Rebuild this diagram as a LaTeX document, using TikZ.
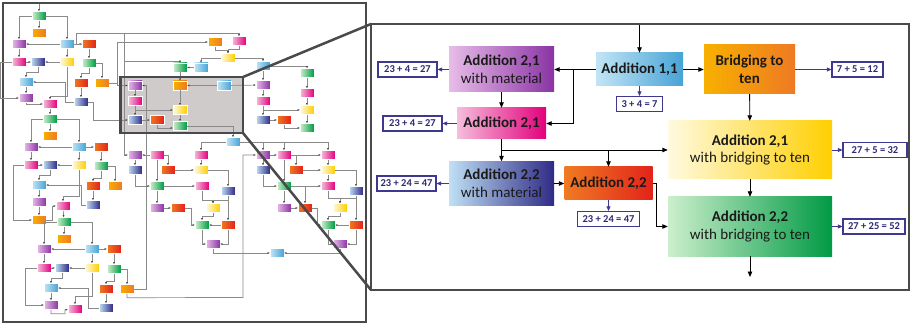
\documentclass[tikz,border=0pt]{standalone}
\usepackage{fontspec}
\setmainfont{Carlito}
\usepackage{tikz}
\usetikzlibrary{arrows.meta}

\definecolor{frameC}{HTML}{4A4A4A}
\definecolor{rectC}{HTML}{CFCBCA}
\definecolor{linkC}{HTML}{8A8A8A}
\definecolor{txtC}{HTML}{1A1A1A}
\definecolor{resC}{HTML}{3E3890}
\definecolor{resT}{HTML}{2E2A78}
\definecolor{puL}{HTML}{E8BCE8}\definecolor{puR}{HTML}{8A34A4}
\definecolor{pkL}{HTML}{F5BEDC}\definecolor{pkR}{HTML}{E3007C}
\definecolor{lbL}{HTML}{C2E5F5}\definecolor{lbR}{HTML}{47A3D6}
\definecolor{orL}{HTML}{F8B000}\definecolor{orR}{HTML}{EE7A23}
\definecolor{yeL}{HTML}{FFFAE0}\definecolor{yeR}{HTML}{FFCF00}
\definecolor{blL}{HTML}{BFE0F5}\definecolor{blR}{HTML}{2F2B86}
\definecolor{reL}{HTML}{F07B22}\definecolor{reR}{HTML}{E2231A}
\definecolor{grL}{HTML}{CCEFCC}\definecolor{grR}{HTML}{009A44}

\begin{document}
\begin{tikzpicture}[x=1pt,y=-1pt]
  \tikzstyle{mini}=[minimum width=14pt,minimum height=9pt,inner sep=0pt,draw=white,line width=0.4pt]
  \tikzstyle{pubox}=[left color=puL,right color=puR]
  \tikzstyle{pkbox}=[left color=pkL,right color=pkR]
  \tikzstyle{lbbox}=[left color=lbL,right color=lbR]
  \tikzstyle{orbox}=[left color=orL,right color=orR]
  \tikzstyle{yebox}=[left color=yeL,right color=yeR]
  \tikzstyle{blbox}=[left color=blL,right color=blR]
  \tikzstyle{rebox}=[left color=reL,right color=reR]
  \tikzstyle{grbox}=[left color=grL,right color=grR]
  \tikzstyle{link}=[-{Latex[length=2.2pt,width=2pt,color=black!75]},linkC,line width=0.7pt]
  \tikzstyle{big}=[inner sep=2pt,align=center,text=txtC,font=\fontsize{15}{17.5}\selectfont]
  \tikzstyle{res}=[draw=resC,line width=1.2pt,fill=white,inner sep=1pt,minimum height=15pt,text=resT,font=\bfseries\fontsize{10.5}{12}\selectfont]
  \tikzstyle{conn}=[-{Triangle[length=5.5pt,width=4.5pt]},black,line width=0.9pt]
  \tikzstyle{resconn}=[-{Triangle[length=4.5pt,width=4pt]},resC,line width=0.9pt]
  \useasboundingbox (0,0) rectangle (911,326);

  % overview
  \draw[frameC,line width=1.5pt,fill=white] (3,3) rectangle (366,322);
  \fill[rectC] (120.5,77) rectangle (243,133);

  \node[mini,grbox] (s_1) at (39,16) {};
  \node[mini,orbox] (s_2) at (39,33) {};
  \node[mini,pubox] (s_3) at (19,44) {};
  \node[mini,lbbox] (s_4) at (67,44) {};
  \node[mini,rebox] (s_5) at (89,44) {};
  \node[mini,pkbox] (s_6) at (19,62) {};
  \node[mini,blbox] (s_7) at (38,62) {};
  \node[mini,yebox] (s_8) at (67,62) {};
  \node[mini,grbox] (s_9) at (89,63) {};
  \node[mini,lbbox] (s_10) at (26,82) {};
  \node[mini,rebox] (s_11) at (81,83) {};
  \node[mini,orbox] (s_12) at (102,83) {};
  \node[mini,pubox] (s_13) at (26,98) {};
  \node[mini,blbox] (s_14) at (81,102) {};
  \node[mini,pkbox] (s_15) at (50,104) {};
  \node[mini,grbox] (s_16) at (50,119) {};
  \node[mini,orbox] (s_17) at (50,136) {};
  \node[mini,pubox] (s_18) at (31,147) {};
  \node[mini,lbbox] (s_19) at (79,147) {};
  \node[mini,rebox] (s_20) at (101,147) {};
  \node[mini,pkbox] (s_21) at (31,165) {};
  \node[mini,blbox] (s_22) at (50,165) {};
  \node[mini,yebox] (s_23) at (79,165) {};
  \node[mini,grbox] (s_24) at (101,166) {};
  \node[mini,lbbox] (s_25) at (39,185) {};
  \node[mini,rebox] (s_26) at (93,186) {};
  \node[mini,orbox] (s_27) at (115,186) {};
  \node[mini,pubox] (s_28) at (39,202) {};
  \node[mini,pkbox] (s_29) at (63,206) {};
  \node[mini,blbox] (s_30) at (93,205) {};
  \node[mini,orbox] (s_31) at (39,220) {};
  \node[mini,grbox] (s_32) at (64,222) {};
  \node[mini,orbox] (s_33) at (64,239) {};
  \node[mini,pubox] (s_34) at (44,249) {};
  \node[mini,lbbox] (s_35) at (92,249) {};
  \node[mini,rebox] (s_36) at (114,249) {};
  \node[mini,pkbox] (s_37) at (44,268) {};
  \node[mini,blbox] (s_38) at (62,268) {};
  \node[mini,yebox] (s_39) at (92,268) {};
  \node[mini,grbox] (s_40) at (114,269) {};
  \node[mini,lbbox] (s_41) at (51,288) {};
  \node[mini,rebox] (s_42) at (106,289) {};
  \node[mini,orbox] (s_43) at (127,289) {};
  \node[mini,pubox] (s_44) at (51,305) {};
  \node[mini,pkbox] (s_45) at (75,309) {};
  \node[mini,blbox] (s_46) at (106,308) {};
  \node[mini,orbox] (s_47) at (215,42) {};
  \node[mini,pkbox] (s_48) at (239,41) {};
  \node[mini,yebox] (s_49) at (228,58) {};
  \node[mini,lbbox] (s_50) at (201,67.5) {};
  \node[mini,lbbox] (s_51) at (263,66) {};
  \node[mini,grbox] (s_52) at (180,67.5) {};
  \node[mini,pubox] (s_53) at (135,85.5) {};
  \node[mini,orbox] (s_54) at (180,85.5) {};
  \node[mini,lbbox] (s_55) at (224,85.5) {};
  \node[mini,pkbox] (s_56) at (135,101) {};
  \node[mini,yebox] (s_57) at (180,110) {};
  \node[mini,blbox] (s_58) at (135,120) {};
  \node[mini,rebox] (s_59) at (157,120) {};
  \node[mini,grbox] (s_60) at (180,126) {};
  \node[mini,pubox] (s_61) at (263,85) {};
  \node[mini,grbox] (s_62) at (307,73) {};
  \node[mini,pkbox] (s_63) at (307,93) {};
  \node[mini,pkbox] (s_64) at (263,101) {};
  \node[mini,yebox] (s_65) at (307,110) {};
  \node[mini,blbox] (s_66) at (263,120) {};
  \node[mini,rebox] (s_67) at (284,120) {};
  \node[mini,grbox] (s_68) at (307,128) {};
  \node[mini,lbbox] (s_69) at (233,142) {};
  \node[mini,pubox] (s_70) at (135,155) {};
  \node[mini,pkbox] (s_71) at (157,155) {};
  \node[mini,blbox] (s_72) at (135,170) {};
  \node[mini,rebox] (s_73) at (168,170) {};
  \node[mini,grbox] (s_74) at (157,186) {};
  \node[mini,pubox] (s_75) at (157,208) {};
  \node[mini,rebox] (s_76) at (178,208) {};
  \node[mini,pkbox] (s_77) at (201,155) {};
  \node[mini,yebox] (s_78) at (201,170) {};
  \node[mini,pkbox] (s_79) at (202,186) {};
  \node[mini,blbox] (s_80) at (228,191) {};
  \node[mini,yebox] (s_81) at (213,208) {};
  \node[mini,grbox] (s_82) at (202,225) {};
  \node[mini,rebox] (s_83) at (228,225) {};
  \node[mini,pubox] (s_84) at (213,244) {};
  \node[mini,pubox] (s_85) at (263,155) {};
  \node[mini,pkbox] (s_86) at (284,155) {};
  \node[mini,blbox] (s_87) at (263,170) {};
  \node[mini,rebox] (s_88) at (296,170) {};
  \node[mini,grbox] (s_89) at (284,186) {};
  \node[mini,pubox] (s_90) at (284,208) {};
  \node[mini,rebox] (s_91) at (305,208) {};
  \node[mini,pkbox] (s_92) at (328,155) {};
  \node[mini,yebox] (s_93) at (328,170) {};
  \node[mini,pkbox] (s_94) at (328,186) {};
  \node[mini,blbox] (s_95) at (356,191) {};
  \node[mini,yebox] (s_96) at (340,208) {};
  \node[mini,grbox] (s_97) at (328,225) {};
  \node[mini,rebox] (s_98) at (356,225) {};
  \node[mini,pubox] (s_99) at (340,244) {};
  \node[mini,lbbox] (s_100) at (277,253) {};
  \coordinate (top_in) at (39,4);
  \coordinate (j_a) at (124,33);
  \coordinate (j_b) at (124,61);
  \coordinate (j_c) at (117,83);

  \draw[link] (top_in) -- (s_1);
  \draw[link] (s_1) -- (s_2);
  \draw[link] (s_1.west) -| (s_3);
  \draw[link] (s_1.east) -| (s_4);
  \draw[link] (s_4) -- (s_3);
  \draw[link] (s_4) -- (s_5);
  \draw[link] (s_3) -- (s_6);
  \draw[link] (s_4) -- (s_8);
  \draw[link] (s_6) -- (s_7);
  \draw[link] (s_8) -- (s_7);
  \draw[link] (s_5) -- (s_9);
  \draw[link] (s_7.south) -- ++(0,6) -| (s_10);
  \draw[link] (s_10) -- (s_13);
  \draw[link] (s_6.west) -- ++(-11,0) |- (s_13);
  \draw[link] (s_13.south) |- (s_15);
  \draw[link] (s_8.south) -- ++(0,30) -| (s_15);
  \draw[link] (s_14.west) -- ++(-8,0) |- (s_10);
  \draw[link] (s_9.south) -- ++(0,6) -| (s_11);
  \draw[link] (s_9.east) -| (s_12);
  \draw[link] (s_11) -- (s_14);
  \draw[link] (s_15) -- (s_16);
  \draw[link] (s_16) -- (s_17);
  \draw[link] (s_16.west) -| (s_18);
  \draw[link] (s_16.east) -| (s_19);
  \draw[link] (s_19) -- (s_18);
  \draw[link] (s_19) -- (s_20);
  \draw[link] (s_18) -- (s_21);
  \draw[link] (s_19) -- (s_23);
  \draw[link] (s_21) -- (s_22);
  \draw[link] (s_23) -- (s_22);
  \draw[link] (s_20) -- (s_24);
  \draw[link] (s_22.south) -- ++(0,6) -| (s_25);
  \draw[link] (s_25) -- (s_28);
  \draw[link] (s_28) -- (s_31);
  \draw[link] (s_21.west) -- ++(-10,0) |- (s_31);
  \draw[link] (s_31.east) -- ++(6,0) |- (s_29);
  \draw[link] (s_23.south) -- ++(0,27) -| (s_29);
  \draw[link] (s_30.west) -- ++(-4,0) |- (s_25);
  \draw[link] (s_24.south) -- ++(0,8) -| (s_26);
  \draw[link] (s_24.east) -| (s_27);
  \draw[link] (s_26) -- (s_30);
  \draw[link] (s_29) -- (s_32);
  \draw[link] (s_32) -- (s_33);
  \draw[link] (s_32.west) -| (s_34);
  \draw[link] (s_32.east) -| (s_35);
  \draw[link] (s_35) -- (s_34);
  \draw[link] (s_35) -- (s_36);
  \draw[link] (s_34) -- (s_37);
  \draw[link] (s_35) -- (s_39);
  \draw[link] (s_37) -- (s_38);
  \draw[link] (s_39) -- (s_38);
  \draw[link] (s_36) -- (s_40);
  \draw[link] (s_38.south) -- ++(0,6) -| (s_41);
  \draw[link] (s_41) -- (s_44);
  \draw[link] (s_37.west) -- ++(-11,0) |- (s_44);
  \draw[link] (s_44.south) -- ++(0,4) -| ++(14,-4) -- (s_45);
  \draw[link] (s_39.south) -- ++(0,24) -| (s_45);
  \draw[link] (s_46.west) -- ++(-10,0) |- (s_41);
  \draw[link] (s_40.south) -- ++(0,8) -| (s_42);
  \draw[link] (s_40.east) -| (s_43);
  \draw[link] (s_42) -- (s_46);
  \draw[link] (s_43.south) -- ++(0,4) -- (243,297.5) |- (s_85);
  \draw[link] (s_43.east) -- (146,289) |- (s_53);
  \draw[link] (s_5.west) -- ++(-5,0) |- (239,33) -- (s_48);
  \draw[link] (j_a) |- (s_70);
  \draw[link] (j_b) -| (s_52);
  \draw[link] (s_12.east) -- (j_c) |- (s_47);
  \draw[link] (j_c) |- (s_53);
  \draw[link] (s_14.east) -- ++(5,0) |- (s_58);
  \draw[link] (s_48.south) -- ++(0,4) -| (s_49);
  \draw[link] (s_47.south) -- ++(0,4) -| (s_49);
  \draw[link] (s_49.west) -| (s_50);
  \draw[link] (s_49.east) -| (s_51);
  \draw[link] (s_50) -- (s_52);
  \draw[link] (s_52) -- (s_54);
  \draw[link] (s_55) -- (s_54);
  \draw[link] (s_54) -- (s_57);
  \draw[link] (s_57) -- (s_60);
  \draw[link] (s_53) -- (s_56);
  \draw[link] (s_56) -- (s_58);
  \draw[link] (s_58) -- (s_59);
  \draw[link] (s_59.south) |- ([yshift=-2pt]s_60.west);
  \draw[link] (s_56.south) |- (s_57);
  \draw[link] (s_55) -- (s_61);
  \draw[link] (s_51) -- (s_61);
  \draw[link] (s_51.east) -| (s_62);
  \draw[link] (s_62) -- (s_63);
  \draw[link] (s_63) -- (s_65);
  \draw[link] (s_61) -- (s_64);
  \draw[link] (s_64) -- (s_66);
  \draw[link] (s_64.south) |- (s_65);
  \draw[link] (s_66) -- (s_67);
  \draw[link] (s_67.south) |- (s_68);
  \draw[link] (s_65) -- (s_68);
  \draw[link] (s_60.east) -| (s_69);
  \draw[link] (s_69.west) -| (s_77);
  \draw[link] (s_69.east) -| (s_85);
  \draw[link] (s_69.east) -| (s_86);
  \draw[link] (s_69.east) -| (s_92);
  \draw[link] (s_71) -- (s_70);
  \draw[link] (s_70) -- (s_72);
  \draw[link] (s_71.east) -| (s_73);
  \draw[link] (s_71) -- (s_74);
  \draw[link] (s_72.south) |- (s_74);
  \draw[link] (s_74) -- (s_75);
  \draw[link] (s_75) -- (s_76);
  \draw[link] (s_74) -- (s_79);
  \draw[link] (s_73) -- (s_78);
  \draw[link] (s_77) -- (s_78);
  \draw[link] (s_78.east) -| (s_80);
  \draw[link] (s_79.south) -- ++(0,10) -| (s_81);
  \draw[link] (s_80.south) -- ++(0,5) -| (s_81);
  \draw[link] (s_80) -- (s_83);
  \draw[link] (s_76.east) -- ++(6,0) |- (s_82);
  \draw[link] (s_81.south) -- ++(0,4) -| (s_82);
  \draw[link] (s_83) -- (s_82);
  \draw[link] (s_82.south) |- (s_84);
  \draw[link] (s_83.south) |- (s_84);
  \draw[link] (s_84.south) |- (s_100);
  \draw[link] (s_85) -- (s_86);
  \draw[link] (s_86) -- (s_92);
  \draw[link] (s_86.east) -| (s_88);
  \draw[link] (s_85) -- (s_87);
  \draw[link] (s_87.south) |- (s_89);
  \draw[link] (s_86) -- (s_89);
  \draw[link] (s_88) -- (s_93);
  \draw[link] (s_92) -- (s_93);
  \draw[link] (s_93) -- (s_94);
  \draw[link] (s_93.east) -| (s_95);
  \draw[link] (s_89) -- (s_94);
  \draw[link] (s_94.south) -- ++(0,8) -| (s_96);
  \draw[link] (s_95.south) -- ++(0,3) -| (s_96);
  \draw[link] (s_95) -- (s_98);
  \draw[link] (s_96.south) -- ++(0,4) -| (s_97);
  \draw[link] (s_98) -- (s_97);
  \draw[link] (s_97.south) |- (s_99);
  \draw[link] (s_98.south) |- (s_99);
  \draw[link] (s_99.south) |- (s_100);
  \draw[link] (s_89) -- (s_90);
  \draw[link] (s_89.east) -| (s_91);
  \draw[link] (s_90) -- (s_91);
  \draw[link] (s_91.east) -- ++(5,0) |- (s_97);

  % zoom frame
  \draw[frameC,line width=2.5pt] (120.5,77) rectangle (243,133);
  \draw[frameC,line width=2.5pt] (243,77) -- (371,24);
  \draw[frameC,line width=2.5pt] (243,133) -- (371,290);

  % detail
  \draw[frameC,line width=2.5pt,fill=white] (371,24) rectangle (909,290);

  \node[big,lbbox,minimum width=87pt,minimum height=33pt] (add11) at (639.5,69.5) {\textbf{Addition 1,1}};
  \node[big,orbox,minimum width=91pt,minimum height=49pt] (bridge) at (749.5,69.5) {\textbf{Bridging to}\\\textbf{ten}};
  \node[big,pubox,minimum width=105pt,minimum height=45pt] (add21mat) at (501.5,69.5) {\textbf{Addition 2,1}\\with material};
  \node[big,pkbox,minimum width=89pt,minimum height=31pt] (add21) at (501.5,123.5) {\textbf{Addition 2,1}};
  \node[big,blbox,minimum width=105pt,minimum height=44pt] (add22mat) at (501.5,183.5) {\textbf{Addition 2,2}\\with material};
  \node[big,rebox,minimum width=88pt,minimum height=33pt] (add22) at (608.5,183.5) {\textbf{Addition 2,2}};
  \node[big,yebox,minimum width=164pt,minimum height=58pt] (add21ten) at (750,150) {\textbf{Addition 2,1}\\with bridging to ten};
  \node[big,grbox,minimum width=164pt,minimum height=59pt] (add22ten) at (750,226.5) {\textbf{Addition 2,2}\\with bridging to ten};

  \node[res,minimum width=59pt] (res_1) at (407.5,69.5) {23 + 4 = 27};
  \node[res,minimum width=59pt] (res_2) at (412.5,123.5) {23 + 4 = 27};
  \node[res,minimum width=46pt] (res_3) at (639.5,104) {3 + 4 = 7};
  \node[res,minimum width=51pt] (res_4) at (857.5,69.5) {7 + 5 = 12};
  \node[res,minimum width=64pt] (res_5) at (875,150) {27 + 5 = 32};
  \node[res,minimum width=62pt] (res_6) at (874,226.5) {27 + 25 = 52};
  \node[res,minimum width=59pt] (res_7) at (406.5,183.5) {23 + 24 = 47};
  \node[res,minimum width=62pt] (res_8) at (608.5,219) {23 + 24 = 47};
  \coordinate (entry) at (639.5,25.5);
  \coordinate (exit) at (750,277);

  \draw[conn] (entry) -- (add11);
  \draw[conn] (add11) -- (add21mat);
  \draw[conn] (add11.west) -- ++(-22,0) |- (add21);
  \draw[conn] (add11) -- (bridge);
  \draw[conn] (add21mat) -- (add21);
  \draw[conn] (add21.south) |- (add21ten);
  \draw[conn] (add21) -- (add22mat);
  \draw[conn] (add21.south) -- ++(0,11) -| (add22);
  \draw[conn] (add22mat) -- (add22);
  \draw[conn] (add22.east) -- ++(4,0) |- (add22ten);
  \draw[conn] (bridge) -- (add21ten);
  \draw[conn] (add21ten) -- (add22ten);
  \draw[conn] (add22ten) -- (exit);
  \draw[resconn] (add21mat) -- (res_1);
  \draw[resconn] (add21) -- (res_2);
  \draw[resconn] (add11) -- (res_3);
  \draw[resconn] (bridge) -- (res_4);
  \draw[resconn] (add21ten) -- (res_5);
  \draw[resconn] (add22ten) -- (res_6);
  \draw[resconn] (add22mat) -- (res_7);
  \draw[resconn] (add22) -- (res_8);
\end{tikzpicture}
\end{document}
